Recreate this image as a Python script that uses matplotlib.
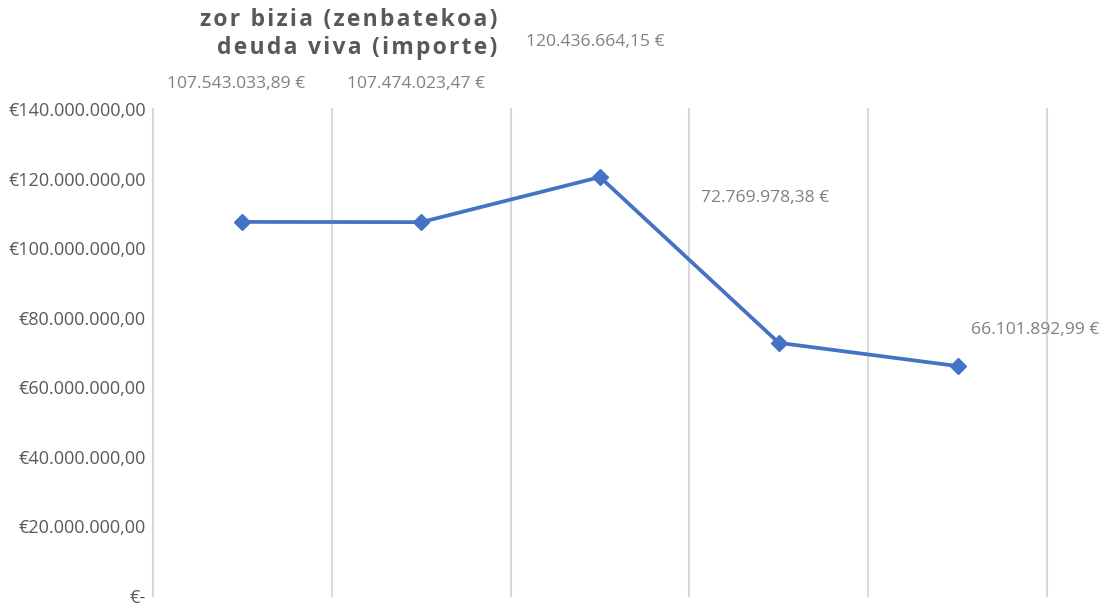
import matplotlib
matplotlib.use("Agg")
import matplotlib.pyplot as plt
from matplotlib.ticker import FuncFormatter, MultipleLocator

categories = ["1", "2", "3", "4", "5"]
values = [107543033.89, 107474023.47, 120436664.15, 72769978.38, 66101892.99]
value_labels = ["107.543.033,89 €", "107.474.023,47 €", "120.436.664,15 €",
                "72.769.978,38 €", "66.101.892,99 €"]
title_lines = ["zor bizia (zenbatekoa)", "deuda viva (importe)"]

# label offsets in pixels (dx, dy) relative to each point
label_offsets = [(-6, 138), (-5, 138), (-5, 135), (-14, 145), (78, 36)]

FONT = ["Open Sans", "DejaVu Sans"]
plt.rcParams['font.family'] = FONT

fig = plt.figure(figsize=(11.07, 6.08), dpi=100)
ax = fig.add_axes([153/1107, 12/608, (1047-153)/1107, (596-109)/608])

x = list(range(len(categories)))
ax.plot(x, values, color="#4472C4", lw=2.7, marker="D", ms=8.5, zorder=3)

ax.set_xlim(-0.5, len(categories) - 0.5)
ax.set_ylim(0, 140e6)
ax.yaxis.set_major_locator(MultipleLocator(20e6))

def fmt(v, pos):
    if abs(v) < 1:
        return "€-"
    s = f"{v:,.2f}"
    s = s.replace(",", "X").replace(".", ",").replace("X", ".")
    return "€" + s

ax.yaxis.set_major_formatter(FuncFormatter(fmt))
ax.tick_params(axis="y", length=0, pad=5, labelsize=13, labelcolor="#595959")
ax.set_xticks([])
for sp in ax.spines.values():
    sp.set_visible(False)

for b in [i - 0.5 for i in range(len(categories) + 1)]:
    ax.axvline(b, color="#d9d9d9", lw=1.5, zorder=1, clip_on=False)

for xi, v, lab, (dx, dy) in zip(x, values, value_labels, label_offsets):
    ax.annotate(lab, (xi, v), xytext=(dx * 0.72, dy * 0.72), textcoords="offset points",
                ha="center", va="center", fontsize=12.6, color="#808080",
                annotation_clip=False)

spaced = ["\u200a".join(list(t)) for t in title_lines]
fig.text(497/1107, 1 - 20/608, spaced[0], ha="right", va="center",
         fontsize=16.5, fontweight="bold", color="#595959", family=FONT)
fig.text(497/1107, 1 - 48/608, spaced[1], ha="right", va="center",
         fontsize=16.5, fontweight="bold", color="#595959", family=FONT)

fig.savefig("out.png", dpi=100)
